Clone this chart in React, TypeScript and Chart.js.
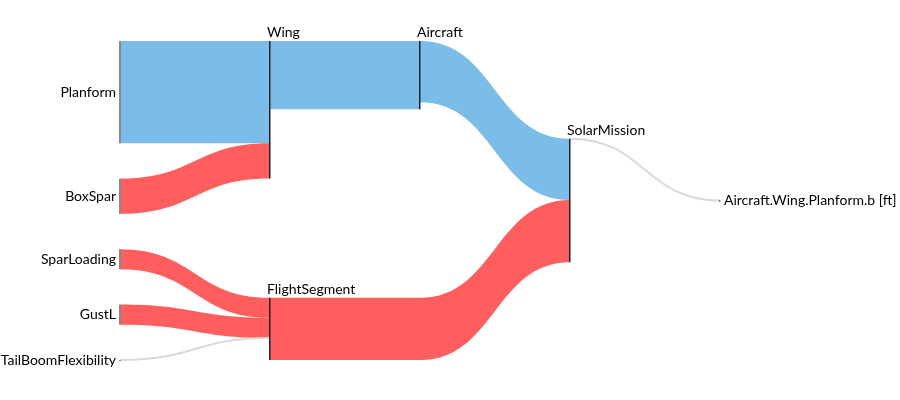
import React, { useEffect, useRef } from "react";
import { Chart, registerables } from "chart.js";

Chart.register(...registerables);

// ---- data ----
const nodeNames = [
  "Planform",
  "BoxSpar",
  "SparLoading",
  "GustL",
  "TailBoomFlexibility",
  "Wing",
  "FlightSegment",
  "Aircraft",
  "SolarMission",
  "Aircraft.Wing.Planform.b [ft]",
];
const flowFrom = [
  "Planform",
  "BoxSpar",
  "SparLoading",
  "GustL",
  "TailBoomFlexibility",
  "Wing",
  "Aircraft",
  "FlightSegment",
  "SolarMission",
];
const flowTo = [
  "Wing",
  "Wing",
  "FlightSegment",
  "FlightSegment",
  "FlightSegment",
  "Aircraft",
  "SolarMission",
  "SolarMission",
  "Aircraft.Wing.Planform.b [ft]",
];
// signed values: positive = blue, negative = red, zero = grey
const flowValues = [102, -35, -20, -20, 0, 68, 61, -62, 0];

// ---- styles ----
const POS_COLOR = "rgb(123,189,232)";
const NEG_COLOR = "rgb(254,94,94)";
const ZERO_COLOR = "#d9d9d9";
const FONT = "14px Lato";
const NODE_PAD = 35.25;

type LNode = {
  name: string;
  col: number;
  inSum: number;
  outSum: number;
  size: number;
  top: number;
  inFlows: number[];
  outFlows: number[];
};

function buildLayout() {
  const nodes: LNode[] = nodeNames.map((name) => ({
    name,
    col: 0,
    inSum: 0,
    outSum: 0,
    size: 0,
    top: 0,
    inFlows: [],
    outFlows: [],
  }));
  const idx = (n: string) => nodeNames.indexOf(n);
  flowFrom.forEach((f, i) => {
    const a = nodes[idx(f)];
    const b = nodes[idx(flowTo[i])];
    const v = Math.abs(flowValues[i]);
    a.outSum += v;
    b.inSum += v;
    a.outFlows.push(i);
    b.inFlows.push(i);
  });
  nodes.forEach((n) => (n.size = Math.max(n.inSum, n.outSum)));
  // columns by longest path
  let changed = true;
  while (changed) {
    changed = false;
    flowFrom.forEach((f, i) => {
      const a = nodes[idx(f)];
      const b = nodes[idx(flowTo[i])];
      if (b.col < a.col + 1) {
        b.col = a.col + 1;
        changed = true;
      }
    });
  }
  const maxCol = Math.max(...nodes.map((n) => n.col));
  // first column stacked
  let y = 0;
  nodes
    .filter((n) => n.col === 0)
    .forEach((n) => {
      n.top = y;
      y += n.size + NODE_PAD;
    });
  const total = y - NODE_PAD;
  const eps = 1e-6;
  for (let c = 1; c <= maxCol; c++) {
    nodes
      .filter((n) => n.col === c)
      .forEach((n) => {
        const srcs = n.inFlows.map((fi) => nodes[idx(flowFrom[fi])]);
        const minTop = Math.min(...srcs.map((s) => s.top));
        const maxBot = Math.max(...srcs.map((s) => s.top + s.size));
        const touchTop = minTop <= eps;
        const touchBot = maxBot >= total - eps;
        if (touchTop && !touchBot) n.top = minTop;
        else if (touchBot && !touchTop) n.top = maxBot - n.size;
        else n.top = (minTop + maxBot) / 2 - n.size / 2;
      });
  }
  // flow offsets
  const srcY: number[] = new Array(flowFrom.length).fill(0);
  const dstY: number[] = new Array(flowFrom.length).fill(0);
  nodes.forEach((n) => {
    const outs = [...n.outFlows].sort(
      (a, b) => nodes[idx(flowTo[a])].top - nodes[idx(flowTo[b])].top
    );
    let o = n.top;
    outs.forEach((fi) => {
      srcY[fi] = o;
      o += Math.abs(flowValues[fi]);
    });
    const ins = [...n.inFlows].sort(
      (a, b) => nodes[idx(flowFrom[a])].top - nodes[idx(flowFrom[b])].top
    );
    let t = n.top;
    ins.forEach((fi) => {
      dstY[fi] = t;
      t += Math.abs(flowValues[fi]);
    });
  });
  return { nodes, total, maxCol, srcY, dstY, idx };
}

export default function App() {
  const canvasRef = useRef<HTMLCanvasElement | null>(null);

  useEffect(() => {
    const canvas = canvasRef.current;
    if (!canvas) return;
    const L = buildLayout();

    const sankeyPlugin = {
      id: "sankeyDraw",
      afterDatasetsDraw(chart: any) {
        const ctx: CanvasRenderingContext2D = chart.ctx;
        const xs = chart.scales.x;
        const ys = chart.scales.y;
        const px = (c: number) => xs.getPixelForValue(c);
        const py = (v: number) => ys.getPixelForValue(v);
        ctx.save();
        // flows
        flowFrom.forEach((f, i) => {
          const a = L.nodes[L.idx(f)];
          const b = L.nodes[L.idx(flowTo[i])];
          const v = flowValues[i];
          const w = Math.abs(v);
          const x0 = px(a.col);
          const x1 = px(b.col);
          const xb = px(b.col - 1);
          const xm = (xb + x1) / 2;
          if (w === 0) {
            const sy = py(L.srcY[i]);
            const ty = py(L.dstY[i]);
            ctx.beginPath();
            ctx.moveTo(x0, sy);
            ctx.lineTo(xb, sy);
            ctx.bezierCurveTo(xm, sy, xm, ty, x1, ty);
            ctx.strokeStyle = ZERO_COLOR;
            ctx.lineWidth = 2;
            ctx.stroke();
            return;
          }
          const sTop = py(L.srcY[i]);
          const sBot = py(L.srcY[i] + w);
          const tTop = py(L.dstY[i]);
          const tBot = py(L.dstY[i] + w);
          ctx.beginPath();
          ctx.moveTo(x0, sTop);
          ctx.lineTo(xb, sTop);
          ctx.bezierCurveTo(xm, sTop, xm, tTop, x1, tTop);
          ctx.lineTo(x1, tBot);
          ctx.bezierCurveTo(xm, tBot, xm, sBot, xb, sBot);
          ctx.lineTo(x0, sBot);
          ctx.closePath();
          ctx.fillStyle = v > 0 ? POS_COLOR : NEG_COLOR;
          ctx.fill();
        });
        // nodes
        L.nodes.forEach((n) => {
          const x = px(n.col);
          const t = py(n.top);
          const h = Math.max(py(n.top + n.size) - t, 1);
          if (n.inFlows.length === 0) {
            ctx.fillStyle = "#888888";
            ctx.fillRect(x - 1, t, 2, h);
          } else {
            ctx.fillStyle = "#222222";
            ctx.fillRect(x - 1, t, 1.5, h);
          }
        });
        // labels
        ctx.font = FONT;
        ctx.fillStyle = "#000";
        L.nodes.forEach((n) => {
          const x = px(n.col);
          const t = py(n.top);
          const mid = py(n.top + n.size / 2);
          if (n.col === 0) {
            ctx.textAlign = "right";
            ctx.textBaseline = "middle";
            ctx.fillText(n.name, x - 4, mid);
          } else if (n.col === L.maxCol) {
            ctx.textAlign = "left";
            ctx.textBaseline = "middle";
            ctx.fillText(n.name, x + 4, mid);
          } else {
            ctx.textAlign = "left";
            ctx.textBaseline = "alphabetic";
            ctx.fillText(n.name, x - 3, t - 4);
          }
        });
        ctx.restore();
      },
    };

    const chart = new Chart(canvas, {
      type: "scatter",
      data: {
        datasets: [
          {
            data: L.nodes.map((n) => ({ x: n.col, y: n.top + n.size / 2 })),
            pointRadius: 0,
            pointHoverRadius: 0,
          },
        ],
      },
      options: {
        animation: false,
        responsive: true,
        maintainAspectRatio: false,
        events: [],
        layout: { padding: { left: 120, right: 180, top: 41, bottom: 40 } },
        scales: {
          x: { type: "linear", min: 0, max: L.maxCol, display: false },
          y: { type: "linear", min: 0, max: L.total, reverse: true, display: false },
        },
        plugins: {
          legend: { display: false },
          tooltip: { enabled: false },
        },
      },
      plugins: [sankeyPlugin],
    });
    return () => chart.destroy();
  }, []);

  return (
    <div
      style={{
        position: "absolute",
        left: 0,
        top: 0,
        width: 900,
        height: 400,
        background: "#fff",
      }}
    >
      <canvas ref={canvasRef} />
    </div>
  );
}
